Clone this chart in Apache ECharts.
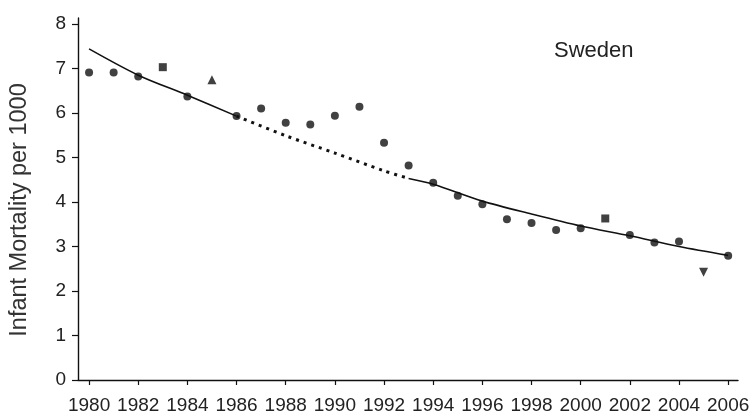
<!DOCTYPE html>
<html>
<head>
<meta charset="utf-8">
<script src="https://cdn.jsdelivr.net/npm/echarts@6/dist/echarts.min.js"></script>
<style>
html,body{margin:0;padding:0;background:#fff;}
#chart{width:754px;height:417px;}
</style>
</head>
<body>
<div id="chart"></div>
<script>
// Observed infant mortality (per 1000), Sweden
var years = [1980,1981,1982,1983,1984,1985,1986,1987,1988,1989,1990,1991,1992,1993,1994,1995,1996,1997,1998,1999,2000,2001,2002,2003,2004,2005,2006];
var rates = [6.91,6.91,6.82,7.03,6.37,6.75,5.93,6.10,5.78,5.74,5.94,6.14,5.33,4.82,4.43,4.14,3.95,3.61,3.53,3.37,3.41,3.63,3.26,3.09,3.11,2.42,2.79];

// Fitted trend line
var trendYears  = [1980,1982,1984,1986,1988,1990,1992,1993,1994,1996,1998,2000,2002,2004,2006];
var trendValues = [7.44,6.85,6.40,5.93,5.49,5.10,4.70,4.53,4.40,4.02,3.73,3.46,3.24,3.00,2.80];

// Segment years where the trend line is drawn dotted
var dottedFrom = 1986, dottedTo = 1993;

// Tick labels
var xTicks = [1980,1982,1984,1986,1988,1990,1992,1994,1996,1998,2000,2002,2004,2006];
var yTicks = [0,1,2,3,4,5,6,7,8];

var chart = echarts.init(document.getElementById('chart'), null, {renderer:'canvas'});

var squareYears = [1983, 2001];
var triangleYears = [1985];
var downYears = [2005];

var scatterData = years.map(function (y, i) {
  var item = {value: [y, rates[i]]};
  if (squareYears.indexOf(y) >= 0) { item.symbol = 'rect'; item.symbolSize = 8; }
  else if (triangleYears.indexOf(y) >= 0) { item.symbol = 'triangle'; item.symbolSize = 9; }
  else if (downYears.indexOf(y) >= 0) { item.symbol = 'triangle'; item.symbolRotate = 180; item.symbolSize = 9; }
  return item;
});

function seg(a, b) {
  var out = [];
  trendYears.forEach(function (y, i) {
    if (y >= a && y <= b) out.push([y, trendValues[i]]);
  });
  return out;
}

var textFont = '"Liberation Sans", Arial, Helvetica, sans-serif';

chart.setOption({
  animation: false,
  backgroundColor: '#ffffff',
  title: {
    text: 'Sweden',
    left: 549, top: 35,
    textStyle: {fontFamily: textFont, fontSize: 22, fontWeight: 'normal', color: '#222'}
  },
  graphic: [{
    type: 'text',
    x: 20, y: 210,
    rotation: Math.PI / 2,
    style: {
      text: 'Infant Mortality per 1000',
      fontFamily: textFont, fontSize: 23.5, fill: '#333',
      align: 'center', verticalAlign: 'middle'
    }
  }],
  grid: {left: 78, right: 16, top: 18, bottom: 37, containLabel: false},
  xAxis: {
    type: 'value',
    min: 1979.55, max: 2006.4,
    splitLine: {show: false},
    axisLine: {lineStyle: {color: '#111', width: 1.4}},
    axisTick: {customValues: xTicks, length: 5, lineStyle: {color: '#111', width: 1.2}},
    axisLabel: {
      customValues: xTicks,
      formatter: function (v) { return String(v); },
      fontFamily: textFont, fontSize: 19, color: '#222', margin: 16
    }
  },
  yAxis: {
    type: 'value',
    min: 0, max: 8.135,
    splitLine: {show: false},
    axisLine: {show: true, lineStyle: {color: '#111', width: 1.4}},
    axisTick: {show: true, customValues: yTicks, length: 6, lineStyle: {color: '#111', width: 1.2}},
    axisLabel: {
      customValues: yTicks,
      fontFamily: textFont, fontSize: 19, color: '#222', margin: 12
    }
  },
  series: [
    {
      type: 'line', data: seg(trendYears[0], dottedFrom), smooth: 0.3,
      symbol: 'none', lineStyle: {color: '#111', width: 1.6}, z: 2
    },
    {
      type: 'line', data: seg(dottedFrom, dottedTo), smooth: 0.3,
      symbol: 'none', lineStyle: {color: '#111', width: 3, type: [3, 5]}, z: 2
    },
    {
      type: 'line', data: seg(dottedTo, trendYears[trendYears.length - 1]), smooth: 0.3,
      symbol: 'none', lineStyle: {color: '#111', width: 1.6}, z: 2
    },
    {
      type: 'scatter', data: scatterData, symbol: 'circle', symbolSize: 8,
      itemStyle: {color: '#111'}, z: 3
    }
  ]
});
</script>
</body>
</html>
